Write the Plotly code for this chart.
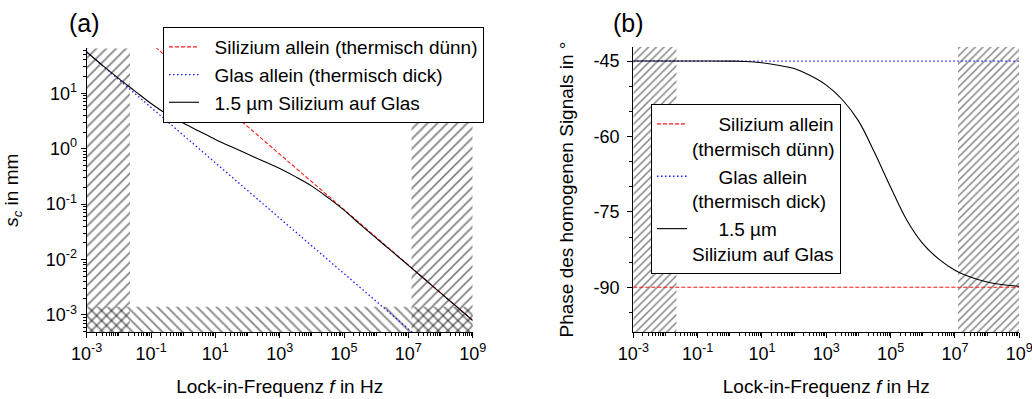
import plotly.graph_objects as go

# ---- data -------------------------------------------------------------
# (a) thermal diffusion length s_c in mm versus lock-in frequency in Hz
si_freq = [1e-1, 1e0, 1e1, 1e2, 1e3, 1e4, 1e5, 1e6, 1e7, 1e8, 1e9]
si_sc = [79.6, 25.2, 7.96, 2.52, 0.796, 0.252, 0.0796, 0.0252, 0.00796, 0.00252, 0.000796]

glas_freq = [1e-3, 1e-2, 1e-1, 1e0, 1e1, 1e2, 1e3, 1e4, 1e5, 1e6, 1e7, 1e8]
glas_sc = [55.6, 17.6, 5.56, 1.76, 0.556, 0.176, 0.0556, 0.0176, 0.00556, 0.00176, 0.000556, 0.000176]

film_freq = [1e-3, 3.16e-3, 1e-2, 3.16e-2, 1e-1, 3.16e-1, 1e0, 3.16e0, 1e1, 3.16e1,
             1e2, 3.16e2, 1e3, 3.16e3, 1e4, 3.16e4, 1e5, 3.16e5, 1e6, 3.16e6,
             1e7, 3.16e7, 1e8, 3.16e8, 1e9]
film_sc = [55.6, 31.6, 18.4, 10.96, 6.53, 4.17, 2.90, 2.06, 1.47, 1.08,
           0.800, 0.592, 0.439, 0.310, 0.211, 0.131, 0.0778, 0.0430, 0.0243, 0.01383,
           0.00785, 0.00444, 0.00249, 0.001406, 0.000793]

# (b) phase of the homogeneous signal in degrees
phase_si_freq = [1e-3, 1e9]
phase_si = [-90, -90]
phase_glas_freq = [1e-3, 1e9]
phase_glas = [-45, -45]
phase_film_freq = [1e-3, 1e-2, 1e-1, 1e0, 3.16e0, 1e1, 3.16e1, 1e2, 3.16e2, 1e3, 3.16e3,
                   1e4, 3.16e4, 1e5, 3.16e5, 1e6, 3.16e6, 1e7, 3.16e7, 1e8, 3.16e8, 1e9]
phase_film = [-45.0, -45.0, -45.0, -45.02, -45.08, -45.35, -45.85, -46.5, -47.9, -49.8, -52.7,
              -56.9, -63.2, -70.1, -76.6, -81.3, -84.4, -86.6, -88.0, -88.95, -89.5, -89.8]

# limits of the accessible measurement range (hatched outside)
f_min_meas = 0.022      # Hz
f_max_meas = 1.25e7     # Hz
sc_min_meas = 1.4e-3    # mm

NB = "\u00a0"
names = [NB * 2 + "Silizium allein (thermisch dünn)",
         NB * 2 + "Glas allein (thermisch dick)",
         NB * 2 + "1.5 µm Silizium auf Glas"]
names_b = [NB * 5 + "Silizium allein<br>(thermisch dünn)",
           NB * 5 + "Glas allein<br>(thermisch dick)",
           NB * 5 + "1.5 µm<br>Silizium auf Glas"]

x_ticks = [1e-3, 1e-1, 1e1, 1e3, 1e5, 1e7, 1e9]
x_ticktext = ["10<sup>-3</sup>", "10<sup>-1</sup>", "10<sup>1</sup>", "10<sup>3</sup>",
              "10<sup>5</sup>", "10<sup>7</sup>", "10<sup>9</sup>"]
y_ticks_a = [1e-3, 1e-2, 1e-1, 1e0, 1e1]
y_ticktext_a = ["10<sup>-3</sup>", "10<sup>-2</sup>", "10<sup>-1</sup>", "10<sup>0</sup>", "10<sup>1</sup>"]
y_ticks_b = [-45, -60, -75, -90]
y_ticktext_b = ["-45", "-60", "-75", "-90"]

# ---- styling ----------------------------------------------------------
FONT = "Arial, Liberation Sans, sans-serif"
X_LOG_RANGE = [-3, 9]
YA_LOG_RANGE = [-3.314, 1.812]
YB_RANGE = [-98.95, -42.15]

fig = go.Figure()


def hatch(x0, x1, y0, y1, shape, size, width, xa, ya):
    return go.Scatter(
        x=[x0, x1, x1, x0, x0], y=[y0, y0, y1, y1, y0],
        mode="lines", fill="toself", fillcolor="rgba(0,0,0,0)",
        line=dict(width=0),
        fillpattern=dict(shape=shape, size=size, solidity=width / size,
                         fgcolor="black", bgcolor="rgba(0,0,0,0)"),
        hoverinfo="skip", showlegend=False, xaxis=xa, yaxis=ya,
    )


xlo, xhi = 10 ** X_LOG_RANGE[0], 10 ** X_LOG_RANGE[1]
ya_lo, ya_hi = 10 ** YA_LOG_RANGE[0], 10 ** YA_LOG_RANGE[1]

# hatched regions, panel (a)
fig.add_trace(hatch(xlo, f_min_meas, ya_lo, ya_hi, "/", 7, 1.6, "x", "y"))
fig.add_trace(hatch(f_max_meas, xhi, ya_lo, ya_hi, "/", 7, 1.6, "x", "y"))
fig.add_trace(hatch(xlo, xhi, ya_lo, sc_min_meas, "\\", 7, 1.6, "x", "y"))
# hatched regions, panel (b)
fig.add_trace(hatch(xlo, f_min_meas, YB_RANGE[0], YB_RANGE[1], "/", 5.5, 1.4, "x2", "y2"))
fig.add_trace(hatch(f_max_meas, xhi, YB_RANGE[0], YB_RANGE[1], "/", 5.5, 1.4, "x2", "y2"))

red = dict(color="#ff1a1a", width=1.1, dash="4px,2px")
blue = dict(color="#1a1aff", width=1.3, dash="1.5px,2.5px")
black = dict(color="black", width=1.1)

# panel (a) curves
fig.add_trace(go.Scatter(x=si_freq, y=si_sc, mode="lines", line=red, name=names[0],
                         xaxis="x", yaxis="y", legend="legend"))
fig.add_trace(go.Scatter(x=glas_freq, y=glas_sc, mode="lines", line=blue, name=names[1],
                         xaxis="x", yaxis="y", legend="legend"))
fig.add_trace(go.Scatter(x=film_freq, y=film_sc, mode="lines", line=dict(black, shape="spline"),
                         name=names[2], xaxis="x", yaxis="y", legend="legend"))

# panel (b) curves
fig.add_trace(go.Scatter(x=phase_si_freq, y=phase_si, mode="lines", line=red, name=names_b[0],
                         xaxis="x2", yaxis="y2", legend="legend2"))
fig.add_trace(go.Scatter(x=phase_glas_freq, y=phase_glas, mode="lines", line=blue, name=names_b[1],
                         xaxis="x2", yaxis="y2", legend="legend2"))
fig.add_trace(go.Scatter(x=phase_film_freq, y=phase_film, mode="lines", line=dict(black, shape="spline"),
                         name=names_b[2], xaxis="x2", yaxis="y2", legend="legend2"))

W, H = 1032, 399
minor_x = [m * 10 ** k for k in range(-3, 9) for m in range(1, 10) if m * 10 ** k not in x_ticks]
minor_ya = [m * 10 ** k for k in range(-4, 2) for m in range(2, 10)]

axis_common = dict(showline=True, linecolor="black", linewidth=1.2, ticks="outside",
                   ticklen=5, tickcolor="black", tickwidth=1, showgrid=False, zeroline=False,
                   tickfont=dict(size=18, color="black"), automargin=False,
                   ticklabeloverflow="allow")

xdef = dict(axis_common, type="log", range=X_LOG_RANGE, tickmode="array",
            tickvals=x_ticks, ticktext=x_ticktext,
            minor=dict(tickmode="array", tickvals=minor_x, ticks="outside", ticklen=3,
                       tickcolor="black", showgrid=False),
            title=dict(text="Lock-in-Frequenz <i>f</i> in Hz", font=dict(size=19, color="black"),
                       standoff=16))

fig.update_layout(
    width=W, height=H, margin=dict(l=0, r=0, t=0, b=0),
    paper_bgcolor="white", plot_bgcolor="white",
    font=dict(family=FONT, color="black", size=19),
    xaxis=dict(xdef, domain=[86.7 / W, 472.7 / W], anchor="y"),
    xaxis2=dict(xdef, domain=[633.3 / W, 1019.3 / W], anchor="y2"),
    yaxis=dict(axis_common, type="log", range=YA_LOG_RANGE, domain=[66.7 / H, 350.7 / H],
               anchor="x", tickmode="array", tickvals=y_ticks_a, ticktext=y_ticktext_a,
               minor=dict(tickmode="array", tickvals=minor_ya, ticks="outside", ticklen=3,
                          tickcolor="black", showgrid=False),
               title=dict(text="<i>s</i><sub><i>c</i></sub> in mm", font=dict(size=19, color="black"),
                          standoff=22)),
    yaxis2=dict(axis_common, range=YB_RANGE, domain=[66.7 / H, 352.3 / H], anchor="x2",
                tickmode="array", tickvals=y_ticks_b, ticktext=y_ticktext_b,
                ticklabelstandoff=4,
                minor=dict(dtick=5, ticks="outside", ticklen=3, tickcolor="black", showgrid=False),
                title=dict(text="Phase des homogenen Signals in °", font=dict(size=19, color="black"),
                           standoff=14)),
    legend=dict(x=163 / W, y=1 - 27 / H, xanchor="left", yanchor="top", bgcolor="white",
                bordercolor="black", borderwidth=1, font=dict(size=19, color="black"),
                itemclick=False, itemdoubleclick=False),
    legend2=dict(x=651 / W, y=1 - 104 / H, xanchor="left", yanchor="top", bgcolor="white",
                 bordercolor="black", borderwidth=1, font=dict(size=19, color="black"),
                 valign="top", itemclick=False, itemdoubleclick=False),
    showlegend=True,
    annotations=[
        dict(text="(a)", x=84 / W, y=1 - 23 / H, xref="paper", yref="paper",
             xanchor="center", yanchor="middle",
             showarrow=False, font=dict(size=25, color="black")),
        dict(text="(b)", x=628 / W, y=1 - 23 / H, xref="paper", yref="paper",
             xanchor="center", yanchor="middle",
             showarrow=False, font=dict(size=25, color="black")),
    ],
)

fig.write_html("out.html")
